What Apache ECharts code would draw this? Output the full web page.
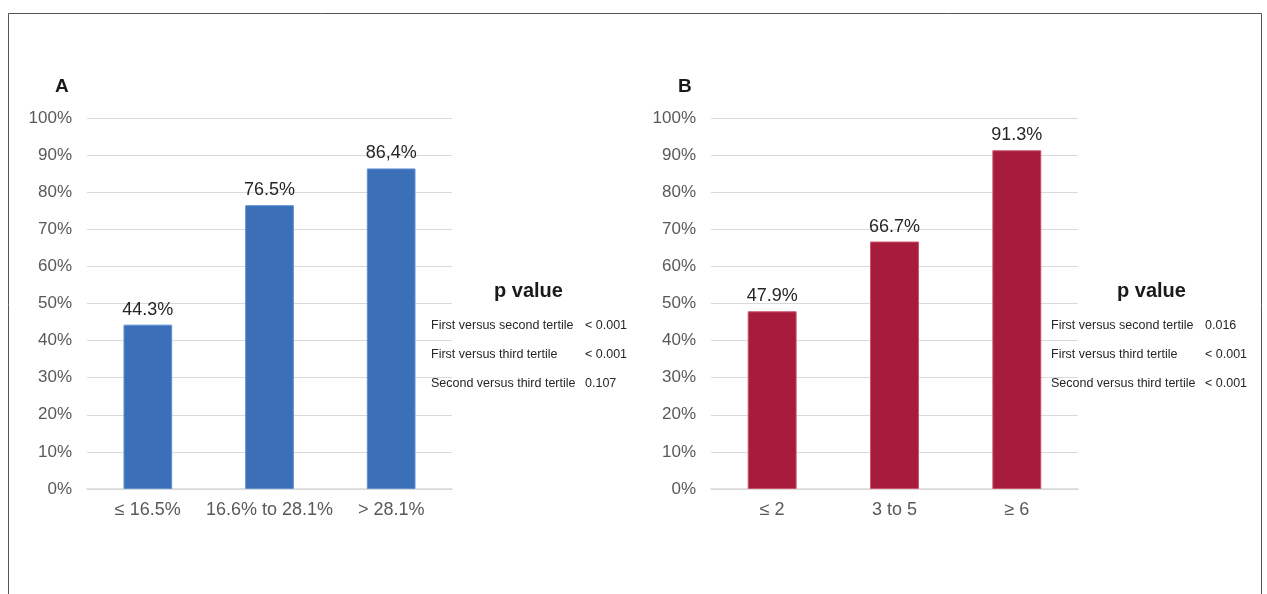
<!DOCTYPE html>
<html lang="en">
<head>
    <meta charset="UTF-8">
    <title>tertile bars</title>
    <script src="https://cdn.jsdelivr.net/npm/echarts@6/dist/echarts.min.js" type="text/javascript"></script>
    <style>
        html, body { margin: 0; padding: 0; background: #fff; }
    </style>
</head>
<body>
<div id="main" style="width: 1267px; height: 594px;"></div>
<script>
    // panel A
    var catsA = ['≤ 16.5%', '16.6% to 28.1%', '> 28.1%'];
    var valsA = [44.3, 76.5, 86.4];
    var labelsA = ['44.3%', '76.5%', '86,4%'];
    // panel B
    var catsB = ['≤ 2', '3 to 5', '≥ 6'];
    var valsB = [47.9, 66.7, 91.3];
    var labelsB = ['47.9%', '66.7%', '91.3%'];
    // p value tables
    var pRows = ['First versus second tertile', 'First versus third tertile', 'Second versus third tertile'];
    var pA = ['< 0.001', '< 0.001', '0.107'];
    var pB = ['0.016', '< 0.001', '< 0.001'];

    var font = '"Liberation Sans", Arial, sans-serif';
    var myChart = echarts.init(document.getElementById('main'));

    function yAx(idx) {
        return {
            type: 'value', gridIndex: idx, min: 0, max: 100, interval: 10,
            axisLabel: { formatter: '{value}%', fontSize: 17, color: '#595959', fontFamily: font, margin: 15 },
            axisLine: { show: false }, axisTick: { show: false },
            splitLine: { lineStyle: { color: '#d9d9d9', width: 1 } }
        };
    }
    function xAx(idx, cats) {
        return {
            type: 'category', gridIndex: idx, data: cats,
            axisLabel: { interval: 0, hideOverlap: false, fontSize: 18, color: '#595959', fontFamily: font, margin: 12 },
            axisLine: { lineStyle: { color: '#d9d9d9', width: 1.5 } },
            axisTick: { show: false }
        };
    }
    function bars(idx, vals, labels, color, border) {
        return {
            type: 'bar', xAxisIndex: idx, yAxisIndex: idx, data: vals,
            barWidth: '40%',
            itemStyle: { color: color, borderColor: border, borderWidth: 1 },
            label: {
                show: true, position: 'top', distance: 6, fontSize: 18,
                color: '#262626', fontFamily: font,
                formatter: function (p) { return labels[p.dataIndex]; }
            }
        };
    }

    function table(cx, left, valX, vals) {
        var els = [{
            type: 'text', left: cx - 36, top: 281,
            style: { text: 'p value', font: 'bold 20px ' + font, fill: '#1a1a1a' }
        }];
        for (var i = 0; i < pRows.length; i++) {
            els.push({ type: 'text', left: left, top: 319 + i * 29,
                style: { text: pRows[i], font: '12.5px ' + font, fill: '#262626' } });
            els.push({ type: 'text', left: valX, top: 319 + i * 29,
                style: { text: vals[i], font: '12.5px ' + font, fill: '#262626' } });
        }
        return els;
    }

    var option = {
        backgroundColor: '#fff',
        animation: false,
        title: [
            { text: 'A', left: 50, top: 72, textStyle: { fontSize: 19, fontWeight: 'bold', color: '#1a1a1a', fontFamily: font } },
            { text: 'B', left: 673, top: 72, textStyle: { fontSize: 19, fontWeight: 'bold', color: '#1a1a1a', fontFamily: font } }
        ],
        grid: [
            { left: 87, top: 118, width: 365, height: 371 },
            { left: 711, top: 118, width: 367, height: 371 }
        ],
        xAxis: [xAx(0, catsA), xAx(1, catsB)],
        yAxis: [yAx(0), yAx(1)],
        series: [
            bars(0, valsA, labelsA, '#3b70b9', '#5d8fd3'),
            bars(1, valsB, labelsB, '#a81c3b', '#c9546c')
        ],
        graphic: [
            { type: 'rect', shape: { x: 8.5, y: 13.5, width: 1253, height: 620 },
              style: { fill: null, stroke: '#555', lineWidth: 1 } }
        ].concat(table(530, 431, 585, pA)).concat(table(1153, 1051, 1205, pB))
    };
    myChart.setOption(option);
</script>
</body>
</html>
